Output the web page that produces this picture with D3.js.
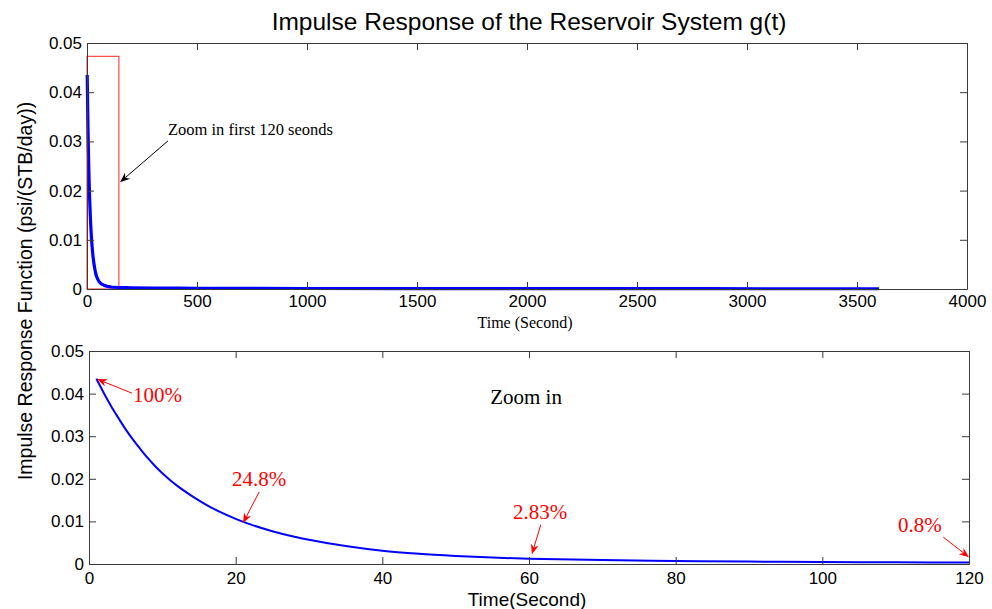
<!DOCTYPE html>
<html><head><meta charset="utf-8">
<script src="https://cdn.jsdelivr.net/npm/d3@7"></script>
<style>body{margin:0;background:#fff} svg{display:block}</style>
</head><body><svg id="c" width="992" height="609"></svg>
<script>
// ---- data ----
const zoomTimes  = [1, 2, 3, 4, 5, 6, 7, 8, 9, 10, 11, 12, 14, 16, 18, 20, 22, 25, 28, 30, 35, 40, 45, 50, 55, 60, 70, 80, 90, 100, 110, 120];
const zoomValues = [0.0435, 0.0402, 0.0371, 0.0343, 0.0316, 0.0292, 0.0270, 0.0249, 0.0230, 0.0213, 0.0198, 0.0184, 0.0160, 0.0139, 0.0121, 0.0106, 0.0093, 0.0077, 0.0064, 0.0057, 0.0042, 0.0031, 0.0024, 0.0019, 0.0015, 0.00123, 0.00092, 0.00072, 0.00057, 0.00047, 0.00040, 0.00035];
const tailTimes  = [150, 200, 300, 500, 1000, 2000, 3600];
const tailValues = [0.0003, 0.00025, 0.0002, 0.00015, 0.0001, 0.00007, 0.00005];
const topXTicks = [0, 500, 1000, 1500, 2000, 2500, 3000, 3500, 4000];
const bottomXTicks = [0, 20, 40, 60, 80, 100, 120];
const yTicks = [0, 0.01, 0.02, 0.03, 0.04, 0.05];
const zoomBoxT = [0, 145];
const zoomBoxV = [0, 0.0473];
const topNoteText = "Zoom in first 120 seonds";
const topNotePos = [368, 0.0325];
const topNoteArrow = [[368, 0.0301], [150, 0.0217]];
const pctLabels = ["100%", "24.8%", "2.83%", "0.8%"];
const pctTextPos = [[6.0, 0.0397], [23.2, 0.0200], [61.5, 0.0122], [113.3, 0.0092]];
const pctArrowTail = [[5.86, 0.0401], [23.2, 0.0169], [61.6, 0.0092], [116.5, 0.0063]];
const pctArrowHead = [[1.1, 0.0434], [21.0, 0.0096], [60.4, 0.0023], [120, 0.0016]];
const zoomInText = "Zoom in";
const zoomInPos = [59.6, 0.0392];

// ---- drawing ----
const svg = d3.select("#c");
const SANS = "'Liberation Sans', Arial, sans-serif";
const SERIF = "'Liberation Serif', 'Times New Roman', serif";
const AX = "#3a3a3a";

const xTop = d3.scaleLinear().domain([0, 4000]).range([87, 967]);
const yTop = d3.scaleLinear().domain([0, 0.05]).range([289, 43]);
const xBot = d3.scaleLinear().domain([0, 120]).range([89, 969]);
const yBot = d3.scaleLinear().domain([0, 0.05]).range([564, 351]);

const yFmt = d => d === 0 ? "0" : d3.format(".2f")(d);

function drawAxes(x, y, xt, labelDy) {
  const [x0, x1] = x.range(), [y0, y1] = y.range();
  const g = svg.append("g");
  const tl = 7;
  g.append("g").attr("transform", `translate(0,${y0})`)
    .call(d3.axisBottom(x).tickValues(xt).tickSizeInner(-tl).tickSizeOuter(0).tickPadding(labelDy).tickFormat(d3.format("d")));
  g.append("g").attr("transform", `translate(0,${y1})`)
    .call(d3.axisTop(x).tickValues(xt).tickSizeInner(-tl).tickSizeOuter(0).tickFormat(""));
  g.append("g").attr("transform", `translate(${x0},0)`)
    .call(d3.axisLeft(y).tickValues(yTicks).tickSizeInner(-tl).tickSizeOuter(0).tickPadding(5).tickFormat(yFmt));
  g.append("g").attr("transform", `translate(${x1},0)`)
    .call(d3.axisRight(y).tickValues(yTicks).tickSizeInner(-tl).tickSizeOuter(0).tickFormat(""));
  g.selectAll(".domain").attr("stroke", AX);
  g.selectAll(".tick line").attr("stroke", AX);
  g.selectAll(".tick text").attr("fill", "#000").style("font-family", SANS).style("font-size", "17px");
  return g;
}

const defs = svg.append("defs");
defs.append("clipPath").attr("id", "clipBot").append("rect")
  .attr("x", 89).attr("y", 351).attr("width", 880).attr("height", 215);

// Top plot
const topData = zoomTimes.map((t, i) => [t, zoomValues[i]]).concat(tailTimes.map((t, i) => [t, tailValues[i]]));
svg.append("rect")
  .attr("x", xTop(zoomBoxT[0])).attr("y", yTop(zoomBoxV[1]))
  .attr("width", xTop(zoomBoxT[1]) - xTop(zoomBoxT[0]))
  .attr("height", yTop(zoomBoxV[0]) - yTop(zoomBoxV[1]))
  .attr("fill", "none").attr("stroke", "#ff2020").attr("stroke-width", 1);
svg.append("path").datum(topData)
  .attr("d", d3.line().x(d => xTop(d[0])).y(d => yTop(d[1])).curve(d3.curveMonotoneX))
  .attr("fill", "none").attr("stroke", "#0000ff").attr("stroke-width", 3.2);
drawAxes(xTop, yTop, topXTicks, 6);

// Bottom plot
const botData = zoomTimes.map((t, i) => [t, zoomValues[i]]);
svg.append("path").datum(botData)
  .attr("clip-path", "url(#clipBot)")
  .attr("d", d3.line().x(d => xBot(d[0])).y(d => yBot(d[1])).curve(d3.curveMonotoneX))
  .attr("fill", "none").attr("stroke", "#0000ff").attr("stroke-width", 2);
drawAxes(xBot, yBot, bottomXTicks, 8);

// Titles and labels
svg.append("text").attr("x", 529).attr("y", 30).attr("text-anchor", "middle")
  .style("font-family", SANS).style("font-size", "24.5px").text("Impulse Response of the Reservoir System g(t)");
svg.append("text").attr("x", 525).attr("y", 328).attr("text-anchor", "middle")
  .style("font-family", SERIF).style("font-size", "16px").text("Time (Second)");
svg.append("text").attr("x", 527).attr("y", 606).attr("text-anchor", "middle")
  .style("font-family", SANS).style("font-size", "19px").text("Time(Second)");
svg.append("text").attr("transform", "translate(32,291) rotate(-90)").attr("text-anchor", "middle")
  .style("font-family", SANS).style("font-size", "19.5px").text("Impulse Response Function (psi/(STB/day))");

function arrow(p0, p1, color, len, hw) {
  const dx = p1[0] - p0[0], dy = p1[1] - p0[1];
  const L = Math.hypot(dx, dy), ux = dx / L, uy = dy / L;
  const bx = p1[0] - ux * len, by = p1[1] - uy * len;
  const nx = bx + ux * len * 0.3, ny = by + uy * len * 0.3;
  svg.append("line").attr("x1", p0[0]).attr("y1", p0[1]).attr("x2", nx).attr("y2", ny)
    .attr("stroke", color).attr("stroke-width", 1);
  const pts = [[p1[0], p1[1]], [bx - uy * hw, by + ux * hw], [nx, ny], [bx + uy * hw, by - ux * hw]];
  svg.append("path").attr("d", "M" + pts.map(p => p.join(",")).join("L") + "Z").attr("fill", color);
}

svg.append("text").attr("x", xTop(topNotePos[0])).attr("y", yTop(topNotePos[1])).attr("dy", "0.35em")
  .style("font-family", SERIF).style("font-size", "16.5px").text(topNoteText);
arrow([xTop(topNoteArrow[0][0]), yTop(topNoteArrow[0][1])], [xTop(topNoteArrow[1][0]), yTop(topNoteArrow[1][1])], "#000", 10, 4);

svg.append("text").attr("x", xBot(zoomInPos[0])).attr("y", yBot(zoomInPos[1])).attr("dy", "0.35em")
  .attr("text-anchor", "middle").style("font-family", SERIF).style("font-size", "21px").text(zoomInText);

pctLabels.forEach((lab, i) => {
  const anchor = i === 0 ? "start" : "middle";
  svg.append("text").attr("x", xBot(pctTextPos[i][0])).attr("y", yBot(pctTextPos[i][1])).attr("dy", "0.35em")
    .attr("text-anchor", anchor).attr("fill", "#ff0000")
    .style("font-family", SERIF).style("font-size", "21px").text(lab);
  arrow([xBot(pctArrowTail[i][0]), yBot(pctArrowTail[i][1])], [xBot(pctArrowHead[i][0]), yBot(pctArrowHead[i][1])], "#ff0000", 10, 4);
});
</script></body></html>
